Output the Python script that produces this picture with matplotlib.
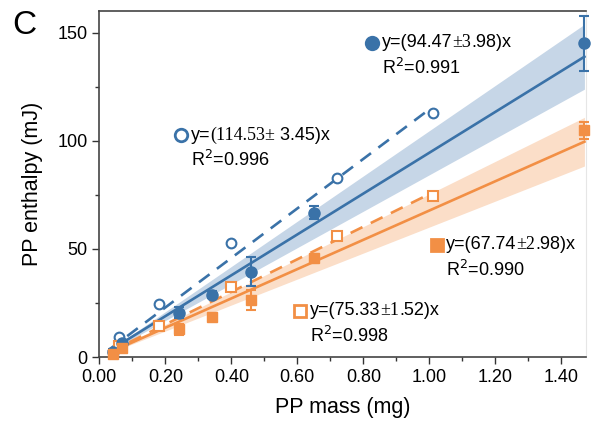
import matplotlib
matplotlib.use("Agg")
import numpy as np
import matplotlib.pyplot as plt
from matplotlib.offsetbox import TextArea, HPacker, AnnotationBbox

plt.rcParams['font.family'] = ['Liberation Sans', 'DejaVu Sans']

# data
mass_filled = [0.04, 0.07, 0.24, 0.34, 0.46, 0.65, 1.47]
blue_filled = [2.5, 6.5, 20.4, 28.8, 39.5, 66.8, 145.0]
blue_err = [1.0, 1.0, 2.5, 1.5, 6.7, 3.0, 12.5]
orange_filled = [1.5, 4.0, 12.8, 18.3, 26.2, 45.8, 104.8]
orange_err = [1.0, 1.0, 2.5, 1.0, 4.6, 1.5, 4.0]

mass_hollow = [0.06, 0.18, 0.40, 0.72, 1.01]
blue_hollow = [9.3, 24.6, 52.9, 82.6, 113.0]
orange_hollow = [5.0, 14.4, 32.6, 55.9, 74.3]

# fits: slope, 95% CI half-width of slope
blue_fit = (94.47, 10.2)
orange_fit = (67.74, 7.66)
blue_dash = 114.53
orange_dash = 75.33
fit_range = [0.03, 1.47]
dash_range = [0.03, 0.99]

blue = '#3a72a8'
orange = '#f28f45'
blue_band = '#c6d6e7'
orange_band = '#fbdec8'

fig = plt.figure(figsize=(5.95, 4.25), dpi=100)
ax = fig.add_axes([0.167, 0.16, 0.818, 0.814])

xf = np.array(fit_range)
ax.fill_between(xf, (blue_fit[0] - blue_fit[1]) * xf, (blue_fit[0] + blue_fit[1]) * xf,
                color=blue_band, lw=0, zorder=1)
ax.fill_between(xf, (orange_fit[0] - orange_fit[1]) * xf, (orange_fit[0] + orange_fit[1]) * xf,
                color=orange_band, lw=0, zorder=1)
ax.plot(xf, blue_fit[0] * xf, color=blue, lw=1.9, zorder=3)
ax.plot(xf, orange_fit[0] * xf, color=orange, lw=1.9, zorder=3)
xd = np.array(dash_range)
ax.plot(xd, blue_dash * xd, color=blue, lw=1.9, ls=(0, (5, 3.5)), zorder=3)
ax.plot(xd, orange_dash * xd, color=orange, lw=1.9, ls=(0, (5, 3.5)), zorder=3)

ax.errorbar(mass_filled, blue_filled, yerr=blue_err, fmt='o', color=blue, ms=8,
            capsize=3.5, capthick=1.5, elinewidth=1.5, zorder=5, clip_on=False)
ax.errorbar(mass_filled, orange_filled, yerr=orange_err, fmt='s', color=orange, ms=7.5,
            capsize=3.5, capthick=1.5, elinewidth=1.5, zorder=5, clip_on=False)
ax.plot(mass_hollow, blue_hollow, 'o', mfc='white', mec=blue, mew=1.5, ms=7, zorder=5)
ax.plot(mass_hollow, orange_hollow, 's', mfc='white', mec=orange, mew=1.5, ms=7, zorder=5)

ax.set_xlim(0, 1.475)
ax.set_ylim(0, 160)
ax.set_xticks(np.arange(0, 1.41, 0.2))
ax.set_xticks(np.arange(0.1, 1.41, 0.2), minor=True)
ax.set_yticks([0, 50, 100, 150])
ax.set_yticks([25, 75, 125], minor=True)
ax.xaxis.set_major_formatter(matplotlib.ticker.FormatStrFormatter('%.2f'))
ax.tick_params(which='major', length=5, width=1, labelsize=13, color='#333333')
ax.tick_params(which='minor', length=3, width=1, color='#333333')
for s in ['left', 'bottom', 'top']:
    ax.spines[s].set_color('#444444')
    ax.spines[s].set_linewidth(1.2)
ax.spines['right'].set_color('#e6e6e6')

ax.set_xlabel('PP mass (mg)', fontsize=15.5, labelpad=8)
ax.set_ylabel('PP enthalpy (mJ)', fontsize=15.5, labelpad=10)
fig.text(0.02, 0.92, 'C', fontsize=24)

sans = dict(fontsize=13, family='Liberation Sans', color='black')
serif = dict(fontsize=13, family='Liberation Serif', color='black')


def label(x, y, pieces, r2, marker, mfc, mec):
    ax.plot([x], [y], marker, mfc=mfc, mec=mec, mew=2, ms=9, zorder=6, clip_on=False)
    boxes = [TextArea(t, textprops=(serif if f else sans)) for t, f in pieces]
    row = HPacker(children=boxes, align='baseline', pad=0, sep=0)
    ab = AnnotationBbox(row, (x, y), xybox=(7, 0), xycoords='data',
                        boxcoords='offset points', box_alignment=(0, 0.5),
                        frameon=False, pad=0)
    ax.add_artist(ab)
    ax.annotate(r'R$^2$=' + r2, (x, y), xytext=(7, -18), textcoords='offset points',
                va='center', ha='left', **sans)


label(0.247, 102.6, [('y=', 0), ('(114.53±', 1), (' 3.45)x', 0)], '0.996', 'o', 'white', blue)
label(0.826, 145.3, [('y=(94.47', 0), ('±3', 1), ('.98)x', 0)], '0.991', 'o', blue, blue)
label(1.022, 52.0, [('y=(67.74', 0), ('±2', 1), ('.98)x', 0)], '0.990', 's', orange, orange)
label(0.608, 21.4, [('y=(75.33', 0), ('±1', 1), ('.52)x', 0)], '0.998', 's', 'white', orange)

fig.savefig('out.png', dpi=100)
